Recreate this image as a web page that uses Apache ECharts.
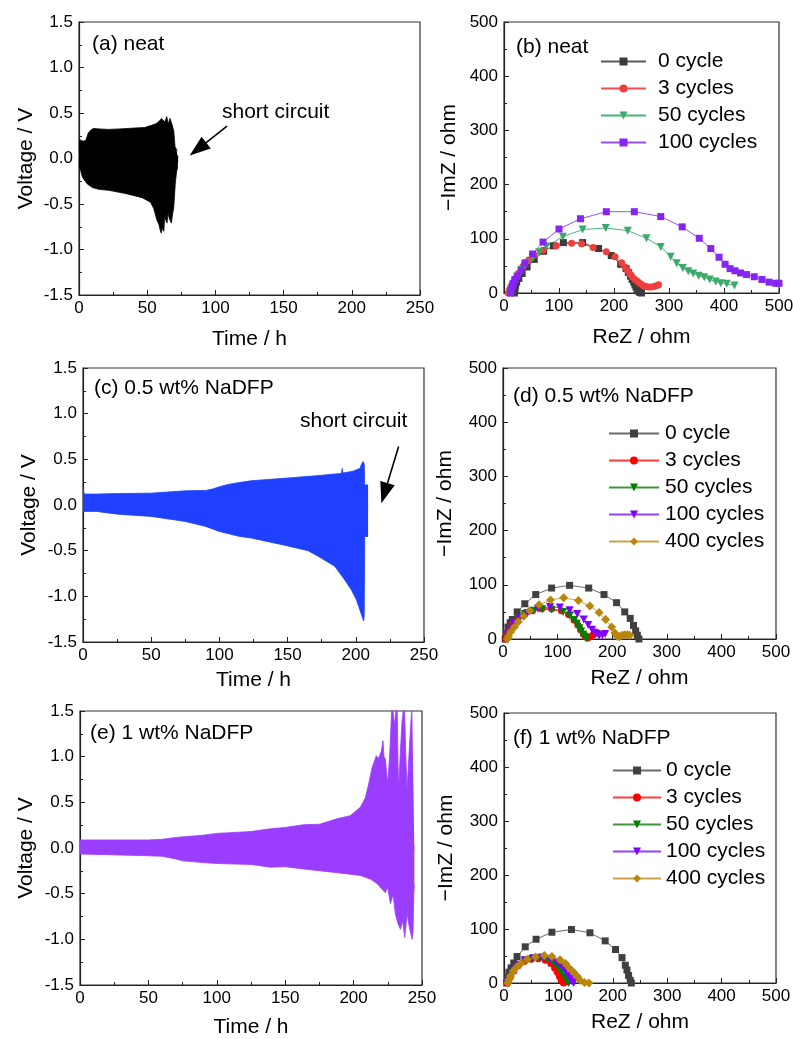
<!DOCTYPE html>
<html><head><meta charset="utf-8">
<script src="https://cdn.jsdelivr.net/npm/echarts@6.0.0/dist/echarts.min.js"></script>
<style>html,body{margin:0;padding:0;background:#fff}#c{width:793px;height:1039px}</style>
</head><body><div id="c"></div>
<script>
// ---------- voltage envelopes (time h, voltage V) ----------
const aUpT = [0,1,3.2,5,6.8,8.5,10.5,15,21.5,30,41,48,53.3,56,58.2,59.5,60.5,61.9,63,64.3,65.5,66.7,67.5,68.4,69.5,70.4,71.5,72.4,72.8];
const aUpV = [0.21,0.22,0.19,0.2,0.28,0.31,0.33,0.325,0.32,0.325,0.335,0.34,0.365,0.38,0.40,0.38,0.44,0.457,0.40,0.46,0.38,0.44,0.46,0.365,0.30,0.13,0.10,0.09,0.09];
const aLoT = [0,1,2.4,4,6.1,9.8,15,21.9,34.1,46.3,52.4,54.8,57.2,58.5,59.6,60.3,61.3,62.2,62.8,64.5,65.3,66.2,67.7,68.5,69.4,70.6,71.5,72.4,72.8];
const aLoV = [-0.09,-0.12,-0.2,-0.24,-0.28,-0.32,-0.34,-0.35,-0.385,-0.43,-0.48,-0.55,-0.68,-0.72,-0.79,-0.82,-0.76,-0.80,-0.64,-0.71,-0.6,-0.66,-0.71,-0.62,-0.55,-0.27,-0.15,-0.085,-0.085];

const cUpT = [0,0.8,10,25,50,75,90,95,100,105,110,123,150,175,184.5,189.5,190,190.6,198,201,203,204,205.3,206.2,206.5,209];
const cUpV = [0.185,0.12,0.12,0.125,0.13,0.155,0.16,0.175,0.2,0.22,0.235,0.265,0.295,0.325,0.34,0.345,0.40,0.35,0.37,0.39,0.40,0.44,0.477,0.45,0.22,0.22];
const cLoT = [0,10,25,50,75,90,100,115,123,147.7,165,172.3,184.5,191.9,196.8,200.5,203,205,205.8,206.2,206.5,209];
const cLoV = [-0.07,-0.07,-0.10,-0.125,-0.18,-0.235,-0.29,-0.345,-0.36,-0.44,-0.5,-0.56,-0.67,-0.82,-0.93,-1.04,-1.15,-1.24,-1.27,-1.2,-0.345,-0.345];

const eUpT = [0,50,60,70,90,100,125,139,150,163.4,175,187.8,197.6,204.9,208.6,211,213.5,216.6,218.3,220.3,221.5,222.2,223.2,224.9,226.4,228.1,229.8,231.8,232.5,233,234,235.4,237.1,238.2,239.1,241,242.8,244,244.4];
const eUpV = [0.088,0.088,0.095,0.116,0.14,0.16,0.18,0.21,0.225,0.255,0.26,0.32,0.354,0.445,0.55,0.70,0.88,1.01,0.98,1.066,1.175,1.0,0.975,0.70,1.02,1.6,1.35,1.6,0.9,0.66,1.0,1.39,1.6,1.0,0.63,1.16,1.6,1.6,1.6];
const eLoT = [0,50,60,70,75,90,100,125,139,150,163.4,187.8,204.9,212.2,217.1,220.7,223.2,224.9,226.9,228.9,230.5,232.5,234.2,235.9,237.4,239.1,241,242.8,243.5,244,244.4];
const eLoV = [-0.066,-0.085,-0.09,-0.12,-0.14,-0.16,-0.17,-0.18,-0.21,-0.205,-0.23,-0.27,-0.30,-0.34,-0.39,-0.45,-0.49,-0.43,-0.61,-0.51,-0.72,-0.83,-0.89,-0.80,-0.98,-0.72,-0.89,-1.0,-0.9,-0.5,-0.4];

// ---------- Nyquist data (ReZ, -ImZ in ohm) ----------
const bRe0 = [19,20,21,23,27,33,42,55,72,90,108,143,172,195,212,222,226,230,233,236,238,240,242,244,246,248,250];
const bIm0 = [0,8,14,20,27,36,48,62,77,87,93,93,82,69,53,45,38,31,25,20,15,11,7,4,2,1,0];
const bRe3 = [8,10,13,16,20,26,35,45,55,71,95,123,141,162,186,202,214,220,225,229,233,238,243,248,253,258,263,268,273,278,281];
const bIm3 = [0,6,12,18,26,36,50,61,70,79,87,92,91,84,76,67,56,48,41,35,30,25,21,17,14,12,11,11,12,14,15];
const bRe50 = [10,13,16,20,25,32,40,52,64,77,107,143,185,225,259,285,303,314,325,335,344,354,364,374,385,394,405,419];
const bIm50 = [0,8,14,21,30,43,55,64,75,86,104,117,120,115,101,85,67,55,46,40,36,32,29,25,21,18,17,14];
const bRe100 = [12,13,15,17,20,24,31,38,52,71,100,139,186,237,285,324,355,376,391,402,411,420,430,441,455,469,482,494,500];
const bIm100 = [0,6,12,18,25,31,42,55,72,94,118,137,150,150,141,122,101,82,66,53,45,41,37,34,30,25,20,18,18];

const dRe0 = [4,6,9,13,17,26,40,60,89,122,157,185,208,223,233,239,243,246,249];
const dIm0 = [0,10,22,30,36,50,65,82,94,99,94,82,67,50,38,25,15,7,0];
const dRe3 = [5,8,12,18,27,39,54,71,89,107,120,130,137,142,147,151,155,160,165,170,174];
const dIm3 = [0,8,18,28,37,45,52,56,56,52,45,35,26,17,9,4,2,4,8,13,11];
const dRe50 = [6,9,13,19,28,40,55,72,89,110,122,130,135,140,143,147,150,153];
const dIm50 = [0,9,19,29,38,46,52,55,54,50,43,35,28,20,14,8,4,1];
const dRe100 = [7,10,14,20,30,45,64,86,104,122,136,148,156,163,170,176,182,187];
const dIm100 = [0,9,19,28,38,48,56,59,58,53,46,36,26,17,9,6,7,9];
const dRe400 = [8,10,14,21,28,38,49,66,87,111,138,159,176,188,199,205,209,213,218,223,228,232];
const dIm400 = [0,5,13,22,32,42,52,63,72,76,71,61,49,36,22,11,5,4,7,8,8,7];

const fRe0 = [5,7,9,13,18,24,39,59,88,124,158,186,205,217,223,226,229,232,234];
const fIm0 = [0,10,20,28,37,49,67,81,94,99,93,78,62,47,33,24,14,5,0];
const fRe3 = [6,8,12,18,26,37,50,63,76,86,93,98,102,105,108,110];
const fIm3 = [0,5,12,22,32,40,44,45,42,36,28,20,12,6,2,0];
const fRe50 = [6,8,12,18,27,38,52,66,80,92,100,106,111,114,117,119];
const fIm50 = [0,5,12,22,33,41,45,46,43,36,28,20,12,6,2,0];
const fRe100 = [6,8,12,18,27,39,54,70,85,97,106,113,118,122,125,128];
const fIm100 = [0,5,12,23,34,42,46,47,44,38,30,22,14,8,3,0];
const fRe400 = [7,9,12,17,24,32,43,58,74,88,103,113,120,128,135,140,148,156];
const fIm400 = [0,6,13,22,30,37,44,48,51,49,43,36,28,20,12,5,1,0];

const legendB = ['0 cycle','3 cycles','50 cycles','100 cycles'];
const legendDF = ['0 cycle','3 cycles','50 cycles','100 cycles','400 cycles'];
const voltTicks = [-1.5,-1.0,-0.5,0.0,0.5,1.0,1.5];
const panelLabels = ['(a) neat','(b) neat','(c) 0.5 wt% NaDFP','(d) 0.5 wt% NaDFP','(e) 1 wt% NaDFP','(f) 1 wt% NaDFP'];

// ---------- build ----------
const FONT = 'Liberation Sans, Arial, sans-serif';
const zip = (a, b) => a.map((v, i) => [v, b[i]]);
const grids = [
  {left:79, top:22, width:341, height:273},
  {left:504, top:22, width:275, height:271},
  {left:83, top:368, width:341, height:274},
  {left:503, top:368, width:273, height:271},
  {left:80, top:711, width:342, height:274},
  {left:504, top:713, width:272, height:270}
].map(g => Object.assign(g, {show:true, borderColor:'#333', borderWidth:1.2, outerBoundsMode:'none', containLabel:false}));

const axisCommon = {
  axisLine:{show:true, onZero:false, lineStyle:{color:'#222', width:1.2}},
  axisTick:{show:true, inside:true, length:5, lineStyle:{color:'#222', width:1}},
  minorTick:{show:true, splitNumber:2, length:3, lineStyle:{color:'#222', width:1}},
  splitLine:{show:false}, minorSplitLine:{show:false},
  nameLocation:'middle', nameMoveOverlap:false,
  nameTextStyle:{fontSize:21, fontFamily:FONT, color:'#000'}
};
const xAxes = [], yAxes = [];
const xNameGaps = [34, 34, 28, 29, 32, 29];
const yNameGaps = [42, 44, 43, 47, 43, 47];
for (let i = 0; i < 6; i++) {
  const volt = i % 2 === 0;
  xAxes.push(Object.assign({}, axisCommon, {
    type:'value', gridIndex:i, min:0, max: volt ? 250 : 500, interval: volt ? 50 : 100,
    name: volt ? 'Time / h' : 'ReZ / ohm', nameGap: xNameGaps[i],
    axisLabel:{color:'#000', fontSize:17, fontFamily:FONT, margin:5, showMinLabel:true, showMaxLabel:true}
  }));
  yAxes.push(Object.assign({}, axisCommon, {
    type:'value', gridIndex:i, min: volt ? voltTicks[0] : 0, max: volt ? voltTicks[voltTicks.length-1] : 500,
    interval: volt ? 0.5 : 100,
    name: volt ? 'Voltage / V' : '\u2212ImZ / ohm', nameGap: yNameGaps[i],
    axisLabel:{color:'#000', fontSize:17, fontFamily:FONT, margin:6,
      formatter: volt ? (v => v.toFixed(1)) : (v => String(v))}
  }));
}

const series = [];
function voltBand(idx, upT, upV, loT, loV, color, arrow) {
  const base = {type:'line', xAxisIndex:idx, yAxisIndex:idx, symbol:'none', silent:true, animation:false, clip:true,
    lineStyle:{color:color, width:0.8}, z:2};
  const up = Object.assign({}, base, {data: zip(upT, upV), areaStyle:{color:color, opacity:1, origin:-0.03}});
  if (arrow) {
    up.markLine = {silent:true, animation:false, symbol:['none','triangle'], label:{show:false},
      lineStyle:{color:'#000', width:1.6, type:'solid'},
      data:[[{coord:arrow[0], symbol:'none'}, {coord:arrow[1], symbol:'triangle', symbolSize:[15,21]}]]};
  }
  series.push(up);
  series.push(Object.assign({}, base, {data: zip(loT, loV), areaStyle:{color:color, opacity:1, origin:0.03}}));
}
voltBand(0, aUpT, aUpV, aLoT, aLoV, '#000000', [[108.5,0.355],[87.2,0.104]]);
voltBand(2, cUpT, cUpV, cLoT, cLoV, '#2040ff', [[231.4,0.64],[221,0.13]]);
voltBand(4, eUpT, eUpV, eLoT, eLoV, '#9b3dff', null);

function nyq(idx, tag, name, re, im, symbol, rot, size, mColor, lColor) {
  series.push({type:'line', name: tag + '|' + name, xAxisIndex:idx, yAxisIndex:idx, data: zip(re, im),
    symbol:symbol, symbolRotate:rot, symbolSize:size, showAllSymbol:true, animation:false, silent:true,
    itemStyle:{color:mColor}, lineStyle:{color:lColor, width:1}, z:3});
}
nyq(1,'b',legendB[0],bRe0,bIm0,'rect',0,7,'#3c3c3c','#5a5a5a');
nyq(1,'b',legendB[1],bRe3,bIm3,'circle',0,7,'#ef3e3e','#ef5050');
nyq(1,'b',legendB[2],bRe50,bIm50,'triangle',180,8,'#3aaa6a','#4cb47a');
nyq(1,'b',legendB[3],bRe100,bIm100,'rect',0,7,'#8424f5','#9450ff');

const dfStyle = [
  ['rect',0,7,'#404040','#6a6a6a'],
  ['circle',0,7,'#ff0000','#ff3a3a'],
  ['triangle',180,8,'#008000','#3a9a3a'],
  ['triangle',180,8,'#8000ff','#9040ff'],
  ['diamond',0,9,'#b8860b','#c9a24a']
];
const dData = [[dRe0,dIm0],[dRe3,dIm3],[dRe50,dIm50],[dRe100,dIm100],[dRe400,dIm400]];
const fData = [[fRe0,fIm0],[fRe3,fIm3],[fRe50,fIm50],[fRe100,fIm100],[fRe400,fIm400]];
dData.forEach((d,k) => nyq(3,'d',legendDF[k],d[0],d[1],...dfStyle[k]));
fData.forEach((d,k) => nyq(5,'f',legendDF[k],d[0],d[1],...dfStyle[k]));

const legFmt = n => n.split('|')[1];
const legBase = {orient:'vertical', selectedMode:false, itemHeight:10, formatter:legFmt, padding:0,
  textStyle:{fontSize:21, fontFamily:FONT, color:'#000', lineHeight:20}};
const legends = [
  Object.assign({}, legBase, {left:600, top:51, itemWidth:45, itemGap:6, data: legendB.map(n=>'b|'+n),
    textStyle:Object.assign({}, legBase.textStyle, {padding:[0,0,0,7]})}),
  Object.assign({}, legBase, {left:608, top:423, itemWidth:50, itemGap:6, data: legendDF.map(n=>'d|'+n),
    textStyle:Object.assign({}, legBase.textStyle, {padding:[0,0,0,1]})}),
  Object.assign({}, legBase, {left:612, top:760, itemWidth:48, itemGap:6, data: legendDF.map(n=>'f|'+n)})
];

const labelPos = [[92,46],[516,49],[94,390],[513,398],[90,735],[513,740]];
const graphic = panelLabels.map((t,i) => ({type:'text', left:labelPos[i][0], top:labelPos[i][1]-12, silent:true,
  style:{text:t, fontSize:21, fontFamily:FONT, fill:'#000'}}));
graphic.push({type:'text', left:222, top:102, silent:true, style:{text:'short circuit', fontSize:21, fontFamily:FONT, fill:'#000'}});
graphic.push({type:'text', left:300, top:411, silent:true, style:{text:'short circuit', fontSize:21, fontFamily:FONT, fill:'#000'}});

const chart = echarts.init(document.getElementById('c'), null, {renderer:'canvas'});
chart.setOption({
  animation:false, backgroundColor:'#fff',
  grid: grids, xAxis: xAxes, yAxis: yAxes, series: series, legend: legends, graphic: graphic,
  tooltip:{show:false}
});
</script></body></html>
